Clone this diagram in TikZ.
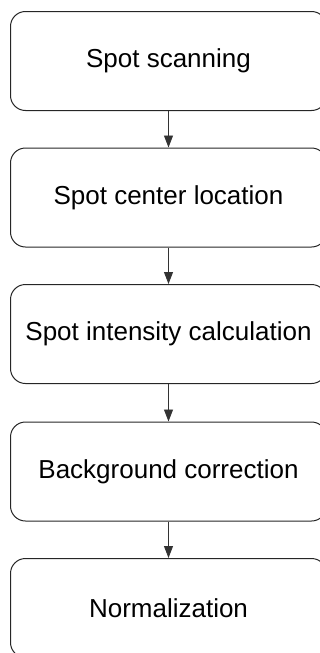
\documentclass[tikz,border=0pt]{standalone}
\usepackage{fontspec}
\setmainfont{Liberation Sans}
\usetikzlibrary{arrows.meta}
\begin{document}
\begin{tikzpicture}[x=1pt,y=-1pt,
  stepbox/.style={draw=black!85, line width=1pt, rounded corners=15pt, minimum width=316pt, minimum height=99pt, inner sep=0pt, font=\fontsize{26}{30}\selectfont, anchor=north west},
  flow/.style={draw=black!80, line width=0.9pt, -{Triangle[length=12pt,width=9pt]}}]
\useasboundingbox (0,0) rectangle (320,653);
\node[stepbox] (b1) at (10,11) {Spot scanning};
\node[stepbox] (b2) at (10,147.5) {Spot center location};
\node[stepbox] (b3) at (10,284) {Spot intensity calculation};
\node[stepbox] (b4) at (10,421.5) {Background correction};
\node[stepbox] (b5) at (10,558) {Normalization};
\draw[flow] (b1.south) -- (b2.north);
\draw[flow] (b2.south) -- (b3.north);
\draw[flow] (b3.south) -- (b4.north);
\draw[flow] (b4.south) -- (b5.north);
\end{tikzpicture}
\end{document}
